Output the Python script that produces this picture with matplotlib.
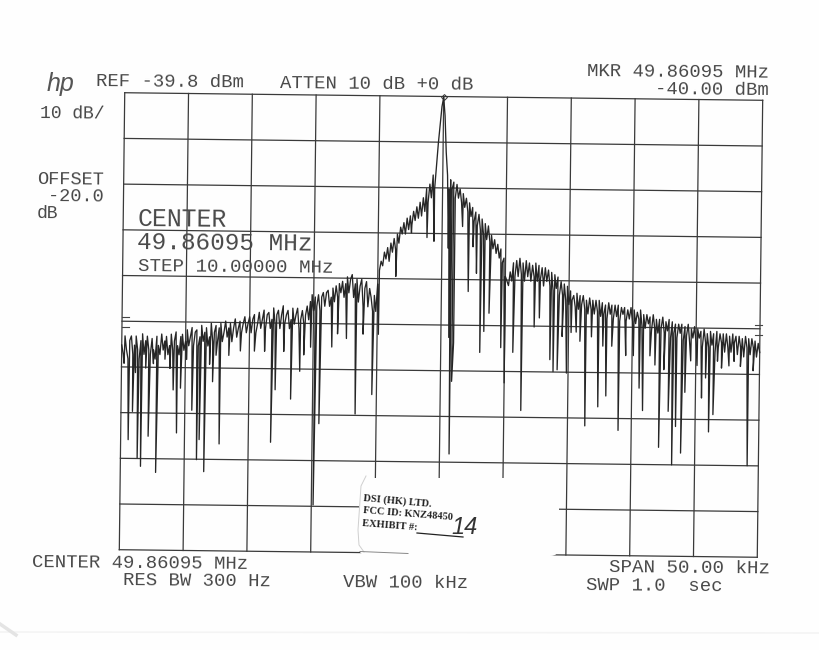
import matplotlib
matplotlib.use('Agg')
import matplotlib.pyplot as plt
from matplotlib.patches import FancyBboxPatch
from matplotlib.transforms import Affine2D
import numpy as np

# sweep around the carrier, in kHz from centre, and level in dBm
span_khz = 50.0
ref_dbm = -39.8
db_per_div = 10

# trace level, 40 points per division
sweep_levels = [
    -95, -97, -93, -96, -98, -94, -93, -97, -95, -93, -96, -98, -94, -92.5, -97, -94, -93, -96, -97, -93.5,
    -96, -98, -93, -95, -97, -92.5, -96, -94, -93, -97, -95, -92.5, -96, -94, -92, -95, -97, -93, -92.5, -96,
    -94, -91.5, -95, -93, -91, -95, -92, -91.5, -95, -93, -90.5, -94, -92, -91, -95, -93, -90, -94, -92, -90.5,
    -94, -91, -90, -94, -92, -89.5, -93, -91, -90, -94, -91, -89, -93, -91, -89.5, -92, -90, -88.5, -92, -90,
    -88.5, -92, -89, -88, -92, -90, -87.5, -91, -89, -87, -91, -88, -87.5, -91, -89, -86.5, -90, -88, -87, -91,
    -88, -86, -90, -88, -87, -91, -89, -86.5, -90, -88, -86.5, -91, -89, -87, -90, -88, -86, -89, -85, -83.5,
    -87, -84, -86, -83.5, -87, -84, -83, -86, -83, -82.5, -86, -84, -82, -85, -81.5, -84, -81, -83, -80.5, -84,
    -81, -79.5, -83, -80, -79, -84, -81, -80, -85, -81.5, -80, -86, -82, -80.5, -86, -82, -84, -87, -83.5, -87,
    -81, -78, -76, -77, -74, -75.5, -73, -76, -72, -74, -71, -73.5, -70, -72, -68.5, -70, -67.5, -70, -66.5, -69,
    -66, -68, -65, -67, -64, -66.5, -63, -66, -62, -65, -60, -63, -59, -62, -57, -60, -55, -50, -46, -42,
    -40, -44, -52, -57, -60, -58, -60, -58.5, -62, -59, -62, -60, -63, -61, -64, -62, -65, -63, -66, -64,
    -67, -65, -68, -65.5, -69, -66.5, -70, -67.5, -71, -68, -71.5, -70, -73, -71, -74, -72, -75, -73, -76, -75,
    -79, -80, -81, -78, -80, -76, -79, -75.5, -79, -75, -78.5, -76, -80, -75.5, -79, -76, -80, -76.5, -79, -76,
    -80, -76.5, -79.5, -77, -81, -77, -80, -77.5, -81, -78, -82, -78.5, -81.5, -79, -83, -80, -83, -80.5, -84, -81,
    -85, -82, -84, -83, -85.5, -82.5, -86, -83, -85, -83, -86, -84, -87, -83.5, -86, -84, -87, -84, -86.5, -84,
    -87.5, -84.5, -87, -85, -88, -84.5, -87, -85, -88, -85, -87.5, -85, -88.5, -85.5, -87, -85.5, -88.5, -86, -88, -85.5,
    -88.5, -86, -89, -86.5, -88, -86, -89.5, -87, -90, -87, -89, -87.5, -90.5, -87, -90, -88, -91, -88, -90, -87.5,
    -91, -88.5, -90.5, -88, -92, -88.5, -91, -89, -92, -89, -91, -89, -92.5, -89.5, -91.5, -89, -93, -90, -92, -89.5,
    -93, -90, -92, -90.5, -94, -90, -93, -91, -94, -90.5, -93.5, -91, -95, -90.5, -94, -91, -93, -91, -95, -91,
    -94, -91.5, -95, -91, -93, -91.5, -95.5, -91.5, -94, -92, -96, -91.5, -94, -92, -95.5, -92, -94, -92.5, -96, -93,
    -95,
]

# deep narrow nulls in the trace
null_khz = [
    -24.41, -24.10, -23.69, -23.42, -22.85, -22.23, -20.93, -20.63, -20.36, -19.45, -19.04, -18.85, -18.46,
    -17.85, -17.28, -13.25, -12.94, -11.72, -11.03, -10.73, -9.86, -9.48, -8.54, -6.65, -5.36, -3.59, -2.40,
    -1.18, -0.63, 0.50, 0.62, 0.75, 0.88, 1.00, 1.60, 2.10, 2.44, 2.73, 3.06, 3.36, 3.75, 4.70, 5.00, 5.65,
    6.33, 8.56, 8.82, 9.14, 9.87, 10.20, 10.60, 11.36, 12.36, 12.98, 13.97, 15.58, 15.87, 17.16, 17.88, 18.20,
    18.47, 18.89, 19.17, 20.48, 20.78, 21.06, 21.39, 22.02, 23.50, 24.12,
]
null_dbm = [
    -115.7, -109.5, -119.7, -121.5, -114.9, -122.8, -104.7, -114.1, -104.3, -109.1, -119.9, -115.5, -122.5,
    -102.8, -116.4, -115.9, -104.4, -106.4, -100.3, -96.7, -129.5, -111.7, -94.9, -109.5, -105.2, -79.3, -69.7,
    -70.7, -71.5, -73.0, -92.5, -118.0, -102.1, -93.7, -68.2, -82.4, -72.6, -78.4, -95.7, -91.1, -87.1, -94.6, -102.3, -95.6,
    -108.3, -97.1, -99.7, -99.3, -100.0, -91.1, -91.0, -111.5, -107.3, -104.9, -112.4, -103.1, -108.0, -116.0, -108.1, -119.8,
    -111.4, -117.2, -103.9, -105.1, -100.7, -112.5, -108.7, -98.5, -98.1, -119.8,
]

# shorter dips that thicken the comb
dip_khz = [
    -24.8, -23.9, -23.1, -22.5, -21.6, -21.2, -19.9, -18.1, -17.6, -16.6, -15.7, -14.6, -13.8, -12.3, -10.2,
    -8.1, -7.4, -6.1, -4.9, 7.3, 7.7, 9.5, 10.9, 11.8, 12.7, 13.4, 14.5, 15.1, 16.4, 16.8, 17.5, 19.6, 20.1,
    21.7, 22.6, 23.0, 24.5,
]
dip_dbm = [
    -99, -101, -100, -99, -98, -100, -98, -99, -97, -97, -96, -96, -96, -96, -95,
    -92, -93, -92, -92, -90, -88, -92, -93, -92, -94, -94, -96, -96, -96, -98, -99, -97, -98,
    -97, -98, -97, -99,
]

header_texts = [
    ("REF -39.8 dBm", 96, 82, 13.6),
    ("ATTEN 10 dB +0 dB", 280, 84, 13.6),
    ("MKR 49.86095 MHz", 587, 72, 13.6),
    ("-40.00 dBm", 655, 90, 13.6),
    ("10 dB/", 40, 114, 13),
    ("OFFSET", 37, 180, 13.4),
    ("-20.0", 48, 197, 13.4),
    ("dB", 37, 214, 13),
    ("CENTER", 138, 219.5, 17.8),
    ("49.86095 MHz", 137, 243, 17.6),
    ("STEP 10.00000 MHz", 138, 266.5, 13.8),
    ("CENTER 49.86095 MHz", 32, 563, 13.6),
    ("RES BW 300 Hz", 123, 581, 13.6),
    ("VBW 100 kHz", 343, 583, 13.6),
    ("SPAN 50.00 kHz", 609, 568, 13.8),
    ("SWP 1.0  sec", 586, 586, 13.6),
]

fig = plt.figure(figsize=(8.19, 6.5), dpi=100)
fig.patch.set_facecolor('#fefefe')

# plot area before the tilt of the scanned page
ax = fig.add_axes([122 / 819, (650 - 553.5) / 650, 638 / 819, 457 / 650])
ax.set_xlim(-span_khz / 2, span_khz / 2)
ax.set_ylim(ref_dbm - 10 * db_per_div, ref_dbm)
ax.axis('off')

# page was scanned slightly rotated
tilt = Affine2D().rotate_deg_around(441, 650 - 325, -0.68)
tr = ax.transData + tilt

for i in range(11):
    x = -span_khz / 2 + i * span_khz / 10
    ax.plot([x, x], [ref_dbm - 100, ref_dbm], color='#3a3a3a', lw=0.9, transform=tr, clip_on=False)
    y = ref_dbm - i * db_per_div
    ax.plot([-span_khz / 2, span_khz / 2], [y, y], color='#3a3a3a', lw=0.9, transform=tr, clip_on=False)

sweep_khz = np.linspace(-span_khz / 2, span_khz / 2, len(sweep_levels))
all_khz = np.concatenate([sweep_khz, null_khz, dip_khz])
all_dbm = np.concatenate([sweep_levels, null_dbm, dip_dbm])
order = np.argsort(all_khz)
ax.plot(all_khz[order], all_dbm[order], color='#262626', lw=0.95, transform=tr, clip_on=False)

# marker at the peak
ax.plot([0.0], [-40.0], marker='D', ms=3, mfc='none', mec='#333333', mew=0.7, transform=tr, clip_on=False)

# page overlay in pixel coordinates for the annotations and sticker
page = fig.add_axes([0, 0, 1, 1], facecolor='none')
page.set_xlim(0, 819)
page.set_ylim(650, 0)
page.axis('off')

for s, x, y, size in header_texts:
    page.text(x, y, s, family='Liberation Mono', fontsize=size, color='#484848',
              ha='left', va='center', rotation=-0.5, rotation_mode='anchor')

page.text(47, 84, "hp", family='Liberation Sans', style='italic', fontsize=18, color='#555555',
          ha='left', va='center')

# reference level marks at both edges
page.plot([122, 129], [317, 317], color='#444444', lw=0.8)
page.plot([122, 129], [327, 327], color='#444444', lw=0.8)
page.plot([755, 762], [325, 325], color='#444444', lw=0.8)
page.plot([755, 762], [335, 335], color='#444444', lw=0.8)

# sticker hides part of the lower grid
sticker = FancyBboxPatch((359, 478), 200, 78, boxstyle='round,pad=0,rounding_size=9',
                         fc='#fefefe', ec='none', zorder=5)
page.add_patch(sticker)
page.plot([366, 361, 358, 359, 364], [476, 486, 530, 545, 552], color='#cfcfcf', lw=0.7, zorder=6)
page.plot([360, 408], [551.5, 553.5], color='#888888', lw=0.7, zorder=6)
page.text(363, 498, "DSI (HK) LTD.", family='Liberation Serif', weight='bold', fontsize=7.5, color='#222222',
          ha='left', va='center', rotation=-5, rotation_mode='anchor', zorder=7)
page.text(363, 511, "FCC ID: KNZ48450", family='Liberation Serif', weight='bold', fontsize=7.5, color='#222222',
          ha='left', va='center', rotation=-4.5, rotation_mode='anchor', zorder=7)
page.text(362, 524, "EXHIBIT #:", family='Liberation Serif', weight='bold', fontsize=7.5, color='#222222',
          ha='left', va='center', rotation=-4.5, rotation_mode='anchor', zorder=7)
page.plot([417, 463], [533, 537], color='#222222', lw=0.9, zorder=7)
page.text(451, 527, "14", family='Liberation Sans', style='italic', fontsize=17, color='#333333',
          ha='left', va='center', zorder=7)

# copier smudge along the bottom of the page
page.plot([0, 819], [632, 633], color='#f4f4f4', lw=1.2)
page.plot([0, 16], [624, 635], color='#e4e4e4', lw=2.5)

plt.savefig('out.png', dpi=100, facecolor=fig.get_facecolor())
plt.close(fig)
